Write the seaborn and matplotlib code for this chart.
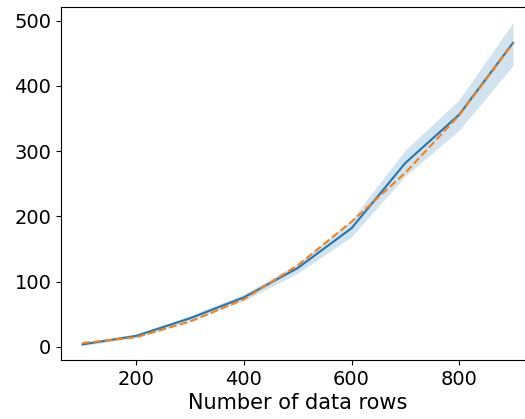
import matplotlib
matplotlib.use("Agg")
import matplotlib.pyplot as plt
import seaborn as sns
import pandas as pd

rows = [100, 200, 300, 400, 500, 600, 700, 800, 900]
measured_mean = [4, 17, 44, 76, 121, 182, 282, 356, 466]
measured_low = [2, 14, 40, 71, 113, 169, 262, 332, 431]
measured_high = [6, 20, 48, 81, 128, 195, 302, 379, 497]
fitted = [6, 15, 39, 73, 125, 192, 267, 355, 465]

plt.rcParams["font.size"] = 14
plt.rcParams["font.family"] = ["DejaVu Sans"]

df = pd.DataFrame({"rows": rows, "mean": measured_mean, "low": measured_low,
                   "high": measured_high, "fit": fitted})

fig = plt.figure(figsize=(5.25, 4.19), dpi=100)
ax = fig.add_axes([61/525, 59/419, (534.5-61)/525, (360-7)/419])

sns.lineplot(data=df, x="rows", y="mean", ax=ax, color="#1f77b4", lw=1.5)
ax.fill_between(df["rows"], df["low"], df["high"], color="#1f77b4", alpha=0.2, lw=0)
sns.lineplot(data=df, x="rows", y="fit", ax=ax, color="#ff7f0e", lw=1.5, linestyle="--")

ax.set_xlim(60, 940)
ax.set_ylim(-20, 521)
ax.set_xticks([200, 400, 600, 800])
ax.set_yticks([0, 100, 200, 300, 400, 500])
ax.set_xlabel("Number of data rows", fontsize=15, labelpad=3)
ax.set_ylabel("")
ax.tick_params(labelsize=14)

fig.savefig("out.png", dpi=100)
